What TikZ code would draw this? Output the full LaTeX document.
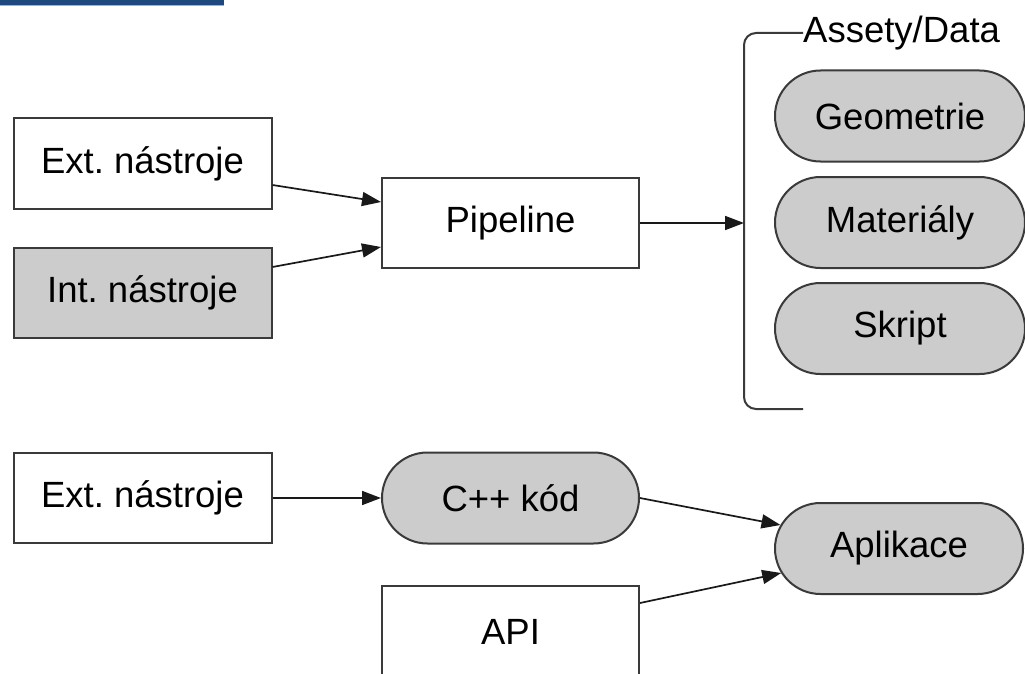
\documentclass[tikz,border=0pt]{standalone}
\usepackage{fontspec}
\setmainfont{Liberation Sans}
\usetikzlibrary{arrows.meta,calc,shapes.misc}
\frenchspacing
\definecolor{edgegrey}{HTML}{3A3A3A}
\definecolor{fillgrey}{HTML}{CCCCCC}
\definecolor{barblue}{HTML}{1F497D}
\definecolor{barlight}{HTML}{9DB3D6}
\tikzset{
  every node/.style={font=\fontsize{36.5}{40}\selectfont, inner sep=0pt},
  sqbox/.style={draw=edgegrey, line width=2pt, rectangle, minimum width=258pt, minimum height=90pt},
  greybox/.style={sqbox, fill=fillgrey},
  pill/.style={draw=edgegrey, line width=2pt, rounded rectangle, fill=fillgrey, minimum height=91pt},
  conn/.style={draw=black!90, line width=1.7pt, -{Triangle[length=19pt,width=14pt]}},
  brace/.style={draw=edgegrey, line width=2pt, rounded corners=12pt}
}
\begin{document}
\begin{tikzpicture}[x=1pt,y=-1pt]
\useasboundingbox (0,0) rectangle (1025,674);
% top bar
\fill[barblue] (0,0) rectangle (224,5);
\fill[barlight] (0,5) rectangle (224,6.5);

% upper part
\node[sqbox] (ext1) at (142.5,163.5) {Ext. nástroje};
\node[greybox] (int1) at (142.5,292.5) {Int. nástroje};
\node[sqbox, minimum width=257pt] (pipe) at (510.5,223) {Pipeline};

\node[anchor=west] (assets) at (803,33) {Assety/Data};
\draw[brace] (assets.west) -- (744,33) -- (744,409) -- (803,409);
\coordinate (brk) at (744,223);

\node[pill, minimum width=250pt] (geo) at (900,116) {Geometrie};
\node[pill, minimum width=250pt] (mat) at (900,222.5) {Materiály};
\node[pill, minimum width=250pt] (skr) at (900,328.5) {Skript};

\draw[conn] ($(ext1.east)+(0,21.5)$) -- ($(pipe.west)+(0,-21)$);
\draw[conn] ($(int1.east)+(0,-25.5)$) -- ($(pipe.west)+(0,24)$);
\draw[conn] (pipe.east) -- (brk);

% lower part
\node[sqbox] (ext2) at (142.5,498) {Ext. nástroje};
\node[pill, minimum width=257pt] (cpp) at (510.5,498) {C++ kód};
\node[pill, minimum width=248pt] (apl) at (899,548.5) {Aplikace};
\node[sqbox, minimum width=257pt, minimum height=91pt] (api) at (510.5,631.5) {API};

\draw[conn] (ext2.east) -- (cpp.west);
\draw[conn] (cpp.east) -- ($(apl.west)+(6.5,-23.5)$);
\draw[conn] ($(api.east)+(0,-28.5)$) -- ($(apl.west)+(7.2,24.5)$);
\end{tikzpicture}
\end{document}
